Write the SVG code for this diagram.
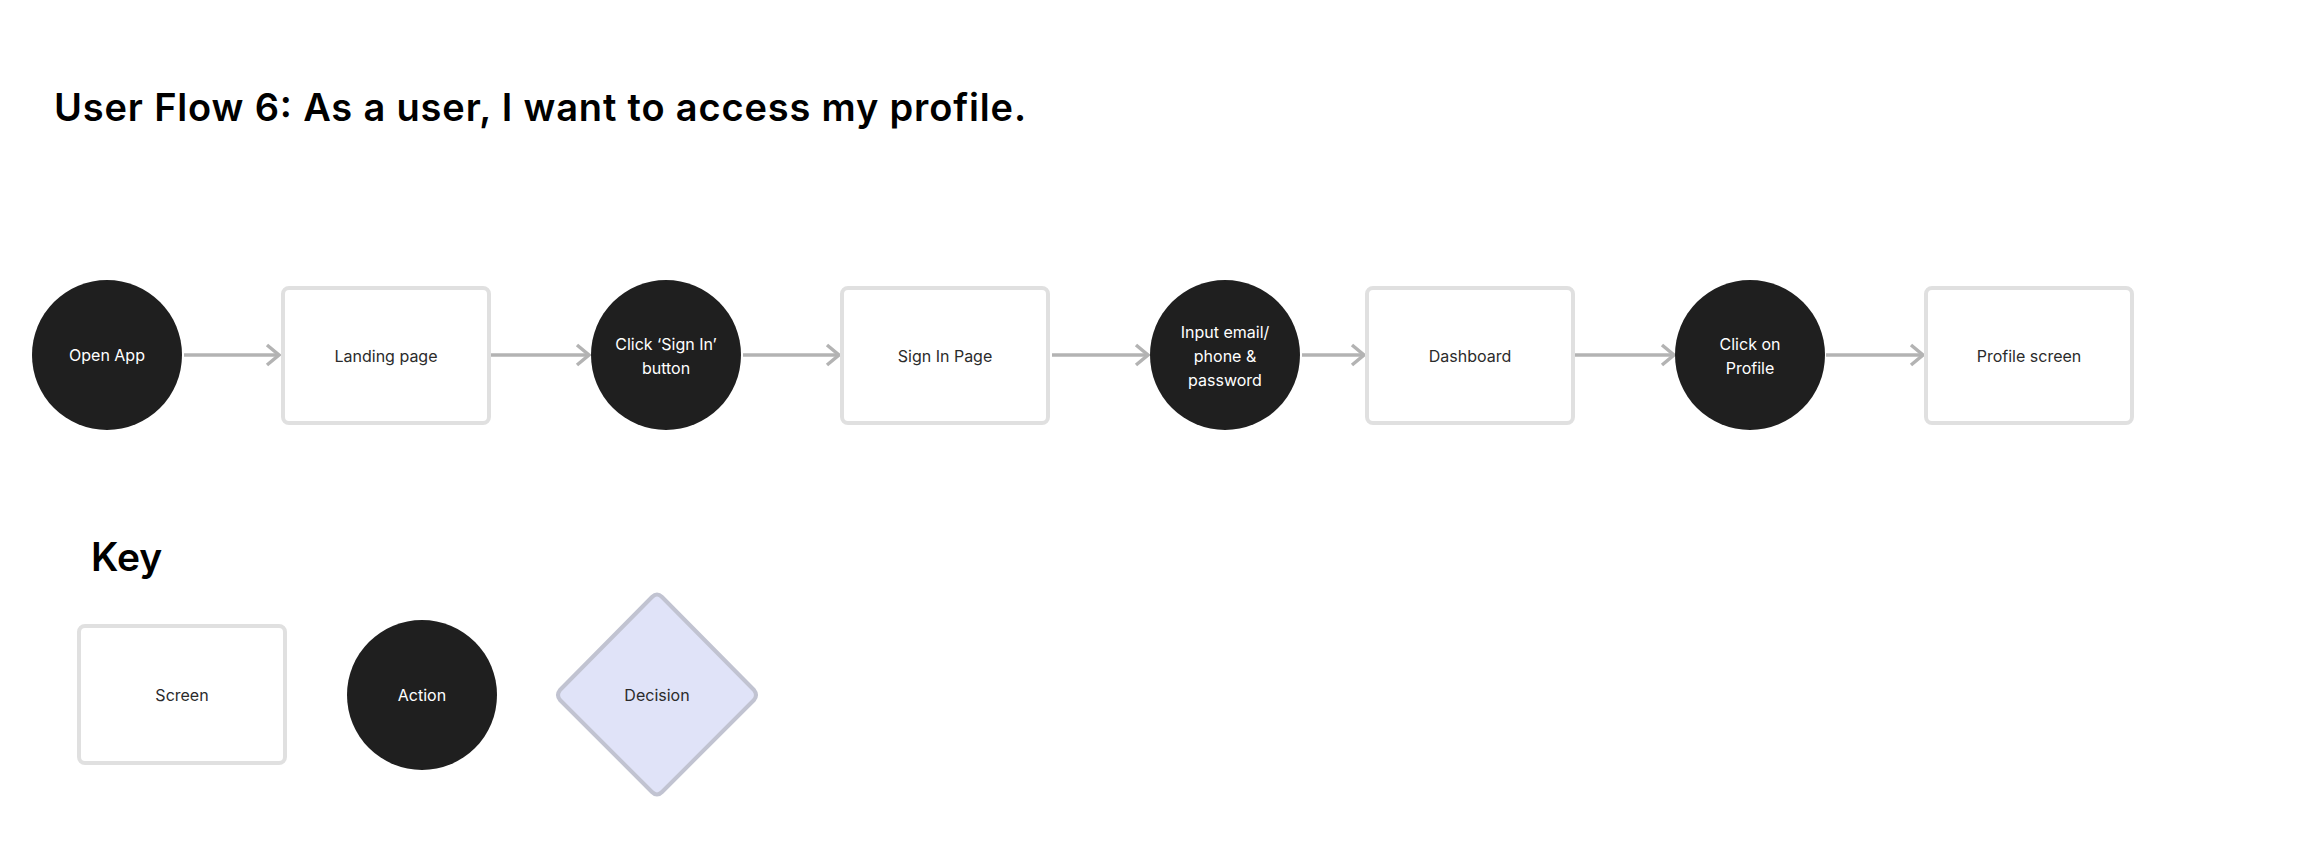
<svg xmlns="http://www.w3.org/2000/svg" width="2297" height="853" viewBox="0 0 2297 853">
<defs>
<style>
.screen{fill:#ffffff;stroke:#e0e0e0;stroke-width:4}
.action{fill:#1f1f1f}
.decision{fill:#e0e3f8;stroke:#c1c3d1;stroke-width:4;stroke-linejoin:round}
.lbl{font-family:Inter,"Liberation Sans",sans-serif;font-size:16px;text-anchor:middle;dominant-baseline:central}
.dark{fill:#2b2b2b}
.light{fill:#ffffff}
.conn{stroke:#b3b3b3;stroke-width:3.5;fill:none}
.title{font-family:Inter,"Liberation Sans",sans-serif;font-weight:600;fill:#000000}
</style>
<marker id="arr" markerUnits="userSpaceOnUse" markerWidth="20" markerHeight="30" viewBox="-16 -15 20 30" refX="0" refY="0" orient="auto">
<path d="M-12,-10 L0,0 L-12,10" fill="none" stroke="#b3b3b3" stroke-width="3.5" stroke-linejoin="miter"/>
</marker>
</defs>
<rect width="2297" height="853" fill="#ffffff"/>
<text class="title" x="54" y="121" font-size="38" textLength="972" lengthAdjust="spacing">User Flow 6: As a user, I want to access my profile.</text>

<g id="connectors">
<line class="conn" x1="184" y1="355" x2="279" y2="355" marker-end="url(#arr)"/>
<line class="conn" x1="490" y1="355" x2="589" y2="355" marker-end="url(#arr)"/>
<line class="conn" x1="743" y1="355" x2="839" y2="355" marker-end="url(#arr)"/>
<line class="conn" x1="1052" y1="355" x2="1148" y2="355" marker-end="url(#arr)"/>
<line class="conn" x1="1302" y1="355" x2="1364" y2="355" marker-end="url(#arr)"/>
<line class="conn" x1="1575" y1="355" x2="1674" y2="355" marker-end="url(#arr)"/>
<line class="conn" x1="1826" y1="355" x2="1923" y2="355" marker-end="url(#arr)"/>
</g>

<g id="open-app">
<circle class="action" cx="107" cy="355" r="75"/>
<text class="lbl light" x="107" y="355">Open App</text>
</g>
<g id="landing-page">
<rect class="screen" x="283" y="288" width="206" height="135" rx="6"/>
<text class="lbl dark" x="386" y="356">Landing page</text>
</g>
<g id="click-sign-in">
<circle class="action" cx="666" cy="355" r="75"/>
<text class="lbl light" x="666" y="344">Click ‘Sign In’</text>
<text class="lbl light" x="666" y="368">button</text>
</g>
<g id="sign-in-page">
<rect class="screen" x="842" y="288" width="206" height="135" rx="6"/>
<text class="lbl dark" x="945" y="356">Sign In Page</text>
</g>
<g id="input-credentials">
<circle class="action" cx="1225" cy="355" r="75"/>
<text class="lbl light" x="1225" y="332">Input email/</text>
<text class="lbl light" x="1225" y="356">phone &amp;</text>
<text class="lbl light" x="1225" y="380">password</text>
</g>
<g id="dashboard">
<rect class="screen" x="1367" y="288" width="206" height="135" rx="6"/>
<text class="lbl dark" x="1470" y="356">Dashboard</text>
</g>
<g id="click-profile">
<circle class="action" cx="1750" cy="355" r="75"/>
<text class="lbl light" x="1750" y="344">Click on</text>
<text class="lbl light" x="1750" y="368">Profile</text>
</g>
<g id="profile-screen">
<rect class="screen" x="1926" y="288" width="206" height="135" rx="6"/>
<text class="lbl dark" x="2029" y="356">Profile screen</text>
</g>

<g id="key">
<text class="title" x="91" y="571" font-size="39">Key</text>
<g id="key-screen">
<rect class="screen" x="79" y="626" width="206" height="137" rx="6"/>
<text class="lbl dark" x="182" y="695">Screen</text>
</g>
<g id="key-action">
<circle class="action" cx="422" cy="695" r="75"/>
<text class="lbl light" x="422" y="695">Action</text>
</g>
<g id="key-decision">
<path class="decision" d="M652,597 Q657,592 662,597 L754,690 Q758,695 754,700 L662,792 Q657,797 652,792 L560,700 Q556,695 560,690 Z"/>
<text class="lbl dark" x="657" y="695">Decision</text>
</g>
</g>
</svg>
